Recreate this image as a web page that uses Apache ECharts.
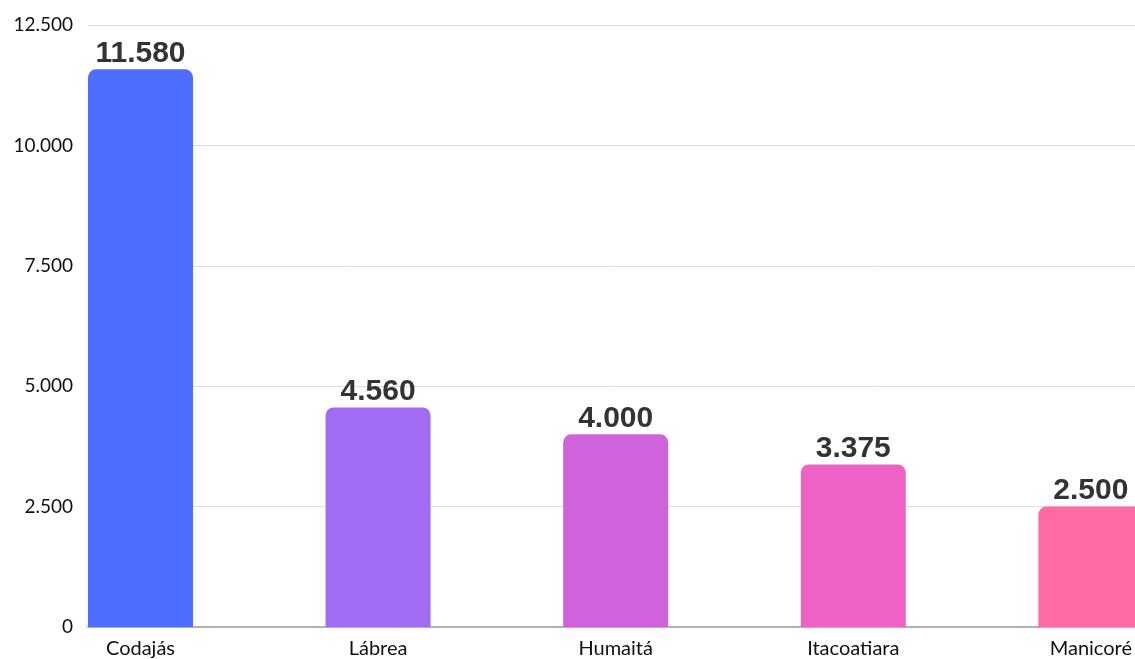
<!DOCTYPE html>
<html>
<head>
<meta charset="utf-8">
<script src="https://cdn.jsdelivr.net/npm/echarts@6/dist/echarts.min.js"></script>
<style>
html,body{margin:0;padding:0;background:#fff;}
#chart{width:1135px;height:659px;}
</style>
</head>
<body>
<div id="chart"></div>
<script>
const categories = ['Codajás', 'Lábrea', 'Humaitá', 'Itacoatiara', 'Manicoré'];
const values = [11580, 4560, 4000, 3375, 2500];
const barColors = ['#4F6DFF', '#A06CF3', '#CF63DB', '#EE61C5', '#FF6AA5'];
const yMin = 0, yMax = 12500, yStep = 2500;

function fmt(v) {
  return String(Math.round(v)).replace(/\B(?=(\d{3})+(?!\d))/g, '.');
}

const chart = echarts.init(document.getElementById('chart'), null, {renderer: 'canvas'});
chart.setOption({
  animation: false,
  backgroundColor: '#ffffff',
  grid: [
    {left: 88, right: 0, top: 25, bottom: 32},
    {left: 140.5, right: 40.5, top: 25, bottom: 32}
  ],
  xAxis: [
    {
      gridIndex: 0, type: 'value', min: 0, max: 1,
      axisLine: {show: true, onZero: false, lineStyle: {color: '#b3b3b3', width: 2}},
      axisTick: {show: false}, axisLabel: {show: false}, splitLine: {show: false}
    },
    {
      gridIndex: 1, type: 'category', data: categories, boundaryGap: false,
      axisLine: {show: false}, axisTick: {show: false},
      axisLabel: {
        show: true, interval: 0, margin: 12,
        fontFamily: 'Lato', fontSize: 20, color: '#111'
      }
    }
  ],
  yAxis: [
    {
      gridIndex: 0, type: 'value', min: yMin, max: yMax, interval: yStep,
      axisLine: {show: false}, axisTick: {show: false},
      axisLabel: {
        margin: 15, fontFamily: 'Lato', fontSize: 19, color: '#111',
        formatter: fmt
      },
      splitLine: {lineStyle: {color: '#dcdcdc', width: 1}}
    },
    {
      gridIndex: 1, type: 'value', min: yMin, max: yMax, interval: yStep, show: false,
      splitLine: {show: false}
    }
  ],
  series: [{
    type: 'bar',
    xAxisIndex: 1, yAxisIndex: 1,
    barWidth: 105,
    clip: false,
    data: values.map((v, i) => ({value: v, itemStyle: {color: barColors[i]}})),
    itemStyle: {borderRadius: [8, 8, 0, 0]},
    label: {
      show: true, position: 'top', distance: 1,
      fontFamily: 'Liberation Sans, Arial, sans-serif', fontWeight: 'bold',
      fontSize: 30, color: '#333',
      formatter: p => fmt(p.value)
    }
  }]
});
</script>
</body>
</html>
